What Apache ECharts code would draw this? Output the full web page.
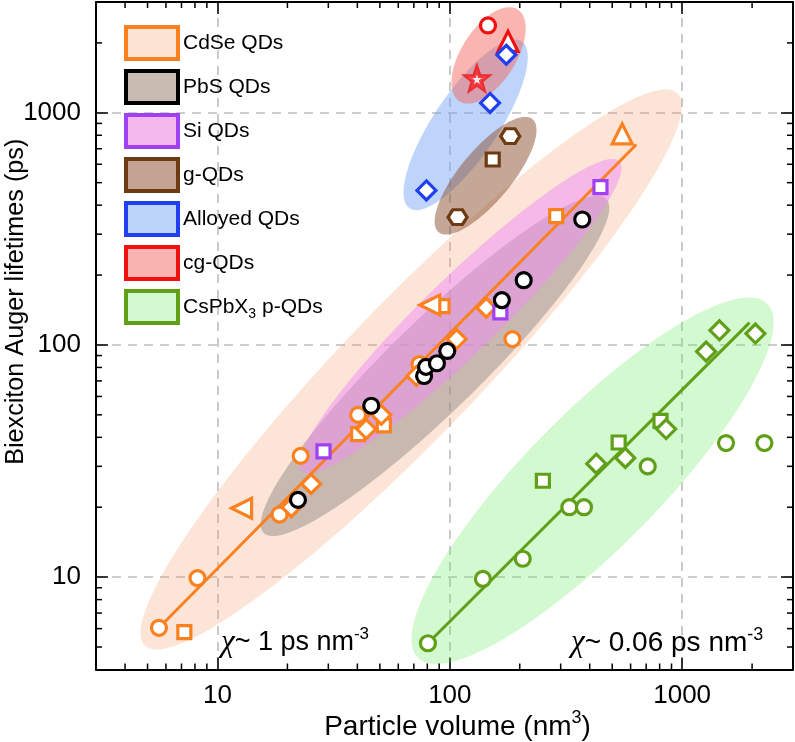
<!DOCTYPE html>
<html><head><meta charset="utf-8">
<script src="https://cdn.jsdelivr.net/npm/echarts@6/dist/echarts.min.js"></script>
<style>html,body{margin:0;padding:0;background:#fff}#c{width:795px;height:742px}</style>
</head><body><div id="c"></div>
<script>
// ---- axis ranges & ticks ----
const xMin = 3, xMax = 3000, yMin = 4, yMax = 3000;
const xTickLabels = ['10', '100', '1000'];
const yTickLabels = ['10', '100', '1000'];
const xMinorTicks = [4,5,6,7,8,9,20,30,40,50,60,70,80,90,200,300,400,500,600,700,800,900,2000];
const yMinorTicks = [5,6,7,8,9,20,30,40,50,60,70,80,90,200,300,400,500,600,700,800,900,2000];

// ---- CdSe QDs ----
const cdseCircle  = [[5.6,6.05],[8.2,9.9],[18.5,18.6],[22.8,33.3],[40.3,50],[74,82.6],[186,106]];
const cdseSquare  = [[7.2,5.8],[40.3,41.3],[52,45],[93,147],[287,359]];
const cdseDiamond = [[20.8,20],[25.3,25.2],[43.7,43.4],[50.7,50],[71.8,73.5],[107,106],[143.5,144.6]];
const cdseTriUp   = [[552,811]];
const cdseTriLeft = [[12.7,19.8],[82,148.6]];
const cdseFit     = [[5.6,6.05],[635,730]];
// ---- PbS QDs ----
const pbsCircle = [[22.2,21.5],[45.9,54.7],[77.5,73.5],[79,80.5],[88,83.4],[97.5,94.2],[167.5,156],[208,190],[371.5,347]];
// ---- Si QDs ----
const siSquare = [[28.6,34.8],[165,138],[445,478]];
// ---- g-QDs ----
const gHexagon = [[108,355],[182,793]];
const gSquare  = [[153,629]];
// ---- Alloyed QDs ----
const alloyDiamond = [[79.3,463],[149,1102],[175,1778]];
// ---- cg-QDs ----
const cgCircle   = [[146,2377]];
const cgTriangle = [[178,2030]];
const cgStar     = [[130.8,1403]];
// ---- CsPbX3 p-QDs ----
const cspbCircle  = [[80.5,5.19],[138.8,9.82],[206,12],[327,20],[378,20],[711,30],[1545,37.8],[2259,37.8]];
const cspbSquare  = [[251.5,26],[533,38],[807,47.1]];
const cspbDiamond = [[427,30.8],[569,32.6],[853,43.4],[1268,93.6],[1447,115.6],[2067,111.9]];
const cspbFit     = [[80.5,5.19],[1950,124.8]];

// ---- ellipse regions: major-axis end points (data) and minor/major ratio ----
const ellCdSe  = [[4.87,5.07,955,1213,0.175]];
const ellPbS   = [[15.8,15.5,472,425,0.19]];
const ellSi    = [[23.0,28.7,537,618,0.17]];
const ellG     = [[89.5,306,227,938,0.35]];
const ellAlloy = [[67.1,388,204,2030,0.32]];
const ellCg    = [[110,1120,196,2786,0.5]];
const ellCspb  = [[72.9,4.49,2323,150.5,0.27]];

const FONT = "'Liberation Sans', Arial, sans-serif";
const C = {cdse:'#fa8020', pbs:'#000000', si:'#a040f0', g:'#6e3a12', alloy:'#2040f0', cg:'#f01010', cspb:'#60a018'};

const HEX  = 'path://M-10,0 L-5,-8.66 L5,-8.66 L10,0 L5,8.66 L-5,8.66 Z';
const STAR = 'path://M0,-10 L2.35,-3.24 L9.51,-3.09 L3.8,1.24 L5.88,8.09 L0,4 L-5.88,8.09 L-3.8,1.24 L-9.51,-3.09 L-2.35,-3.24 Z';

function ellipseItem(params, api) {
  const p1 = api.coord([api.value(0), api.value(1)]);
  const p2 = api.coord([api.value(2), api.value(3)]);
  const r = api.value(4);
  const cx = (p1[0]+p2[0])/2, cy = (p1[1]+p2[1])/2;
  const dx = p2[0]-p1[0], dy = p2[1]-p1[1];
  const L = Math.hypot(dx, dy), a = L/2, b = a*r;
  const ux = dx/L, uy = dy/L, nx = -uy, ny = ux;
  const pts = [];
  for (let i = 0; i < 144; i++) {
    const t = i/144*2*Math.PI;
    pts.push([cx + a*Math.cos(t)*ux + b*Math.sin(t)*nx, cy + a*Math.cos(t)*uy + b*Math.sin(t)*ny]);
  }
  return {type:'polygon', shape:{points:pts}, style:{fill: api.visual('color')}};
}
function ellSeries(name, data, fill) {
  return {type:'custom', name, coordinateSystem:'cartesian2d', renderItem: ellipseItem,
    data, encode:{x:[0,2], y:[1,3]}, itemStyle:{color:fill}, z:1, silent:true};
}
function sc(name, data, symbol, size, color, extra) {
  return Object.assign({type:'scatter', name, data, symbol, symbolSize:size, z:3,
    itemStyle:{color:'#fff', borderColor:color, borderWidth:3.2, opacity:1}}, extra||{});
}
function xMinorItem(params, api) {
  const v = api.value(0);
  const pb = api.coord([v, yMin]), pt = api.coord([v, yMax]);
  return {type:'group', children:[
    {type:'line', shape:{x1:pb[0], y1:pb[1], x2:pb[0], y2:pb[1]-6}, style:{stroke:'#000', lineWidth:1.5}},
    {type:'line', shape:{x1:pt[0], y1:pt[1], x2:pt[0], y2:pt[1]+6}, style:{stroke:'#000', lineWidth:1.5}}
  ]};
}
function yMinorItem(params, api) {
  const v = api.value(1);
  const pl = api.coord([xMin, v]), pr = api.coord([xMax, v]);
  return {type:'group', children:[
    {type:'line', shape:{x1:pl[0], y1:pl[1], x2:pl[0]+6, y2:pl[1]}, style:{stroke:'#000', lineWidth:1.5}},
    {type:'line', shape:{x1:pr[0], y1:pr[1], x2:pr[0]-6, y2:pr[1]}, style:{stroke:'#000', lineWidth:1.5}}
  ]};
}

const legendItems = [
  {name:'CdSe QDs', fill:'#fce4d4', border:C.cdse},
  {name:'PbS QDs', fill:'#c8bcb2', border:C.pbs},
  {name:'Si QDs', fill:'#f4b8ee', border:C.si},
  {name:'g-QDs', fill:'#c4a294', border:C.g},
  {name:'Alloyed QDs', fill:'#bcd4fa', border:C.alloy},
  {name:'cg-QDs', fill:'#f9b3b0', border:C.cg},
  {name:'CsPbX3 p-QDs', fill:'#d3f8cf', border:C.cspb}
];

function mainAxisCommon(labels) {
  return {
    type:'log', logBase:10,
    axisLine:{show:true, onZero:false, lineStyle:{color:'#000', width:2}},
    axisTick:{show:true, inside:true, length:12, lineStyle:{color:'#000', width:1.5}},
    axisLabel:{show:true, color:'#000', fontSize:26, fontFamily:FONT, showMinLabel:false, showMaxLabel:false,
      formatter: v => { const s = String(Math.round(v)); return labels.indexOf(s) >= 0 ? s : ''; }},
    splitLine:{show:true, lineStyle:{color:'#bdbdbd', type:[9,7], width:1.6}}
  };
}
function secondaryAxis(pos, min, max) {
  return {type:'log', logBase:10, position:pos, min, max,
    axisLine:{show:true, onZero:false, lineStyle:{color:'#000', width:2}},
    axisTick:{show:true, inside:true, length:12, lineStyle:{color:'#000', width:1.5}},
    axisLabel:{show:false}, splitLine:{show:false}};
}

const chart = echarts.init(document.getElementById('c'), null, {renderer:'canvas'});
chart.setOption({
  animation:false,
  backgroundColor:'#fff',
  grid:{left:96, right:2, top:2, bottom:72.5, containLabel:false, outerBoundsMode:'none'},
  xAxis:[
    Object.assign(mainAxisCommon(xTickLabels), {position:'bottom', min:xMin, max:xMax,
      axisLabel: Object.assign(mainAxisCommon(xTickLabels).axisLabel, {margin:13}),
      name:'{a|Particle volume (nm}{s|3}{a|)}', nameLocation:'middle', nameGap:40, nameMoveOverlap:false,
      nameTextStyle:{color:'#000', fontFamily:FONT, padding:[0,0,0,26], rich:{
        a:{fontSize:28, fontFamily:FONT, color:'#000', lineHeight:35},
        s:{fontSize:18, fontFamily:FONT, color:'#000', verticalAlign:'top'}}}}),
    secondaryAxis('top', xMin, xMax)
  ],
  yAxis:[
    Object.assign(mainAxisCommon(yTickLabels), {position:'left', min:yMin, max:yMax,
      axisLabel: Object.assign(mainAxisCommon(yTickLabels).axisLabel, {margin:15}),
      name:'Biexciton Auger lifetimes (ps)', nameLocation:'middle', nameGap:67, nameRotate:90, nameMoveOverlap:false,
      nameTextStyle:{color:'#000', fontFamily:FONT, fontSize:25.2, padding:[0,0,0,68]}}),
    secondaryAxis('right', yMin, yMax)
  ],
  legend:{
    orient:'vertical', left:124, top:25, padding:0, itemWidth:52, itemHeight:32, itemGap:8,
    selectedMode:false,
    data: legendItems.map(it => ({name:it.name, icon:'rect',
      itemStyle:{color:it.fill, borderColor:it.border, borderWidth:4}})),
    formatter: name => name === 'CsPbX3 p-QDs' ? '{n|CsPbX}{b|3}{n| p-QDs}' : '{n|' + name + '}',
    textStyle:{color:'#000', fontFamily:FONT, fontSize:21, rich:{
      n:{fontSize:21, fontFamily:FONT, color:'#000', lineHeight:28},
      b:{fontSize:14, fontFamily:FONT, color:'#000', verticalAlign:'bottom'}}}
  },
  graphic:[
    {type:'text', left:221, top:626, z:20, style:{
      text:'{c|χ}{t|~ 1 ps nm}{s|-3}',
      rich:{
        c:{fontSize:31, fontFamily:"'Liberation Serif', serif", fontStyle:'italic', fill:'#000', lineHeight:34},
        t:{fontSize:27, fontFamily:FONT, fill:'#000', lineHeight:34},
        s:{fontSize:17, fontFamily:FONT, fill:'#000', verticalAlign:'top'}}}},
    {type:'text', left:571, top:626, z:20, style:{
      text:'{c|χ}{t|~ 0.06 ps nm}{s|-3}',
      rich:{
        c:{fontSize:31, fontFamily:"'Liberation Serif', serif", fontStyle:'italic', fill:'#000', lineHeight:34},
        t:{fontSize:28, fontFamily:FONT, fill:'#000', lineHeight:34},
        s:{fontSize:18, fontFamily:FONT, fill:'#000', verticalAlign:'top'}}}}
  ],
  series:[
    ellSeries('CdSe QDs', ellCdSe, 'rgba(245,150,90,0.25)'),
    ellSeries('CsPbX3 p-QDs', ellCspb, 'rgba(110,235,100,0.3)'),
    ellSeries('PbS QDs', ellPbS, 'rgba(150,140,135,0.5)'),
    ellSeries('Si QDs', ellSi, 'rgba(240,140,245,0.5)'),
    ellSeries('Alloyed QDs', ellAlloy, 'rgba(110,160,245,0.45)'),
    ellSeries('g-QDs', ellG, 'rgba(140,80,50,0.5)'),
    ellSeries('cg-QDs', ellCg, 'rgba(245,90,80,0.45)'),
    {type:'line', name:'CdSe fit', data:cdseFit, showSymbol:false, symbol:'none', z:2,
      lineStyle:{color:C.cdse, width:3}},
    {type:'line', name:'CsPbX3 fit', data:cspbFit, showSymbol:false, symbol:'none', z:2,
      lineStyle:{color:C.cspb, width:3}},
    sc('CdSe circle', cdseCircle, 'circle', 15, C.cdse),
    sc('CdSe square', cdseSquare, 'rect', 13, C.cdse),
    sc('CdSe diamond', cdseDiamond, 'diamond', 19, C.cdse),
    sc('CdSe triangle', cdseTriUp, 'triangle', 20, C.cdse),
    sc('CdSe left triangle', cdseTriLeft, 'triangle', 20, C.cdse, {symbolRotate:90}),
    sc('Si square', siSquare, 'rect', 13, C.si),
    sc('PbS circle', pbsCircle, 'circle', 15, C.pbs),
    sc('g hexagon', gHexagon, HEX, [19,17], C.g, {symbolKeepAspect:true}),
    sc('g square', gSquare, 'rect', 13, C.g),
    sc('cg circle', cgCircle, 'circle', 15, C.cg),
    sc('cg triangle', cgTriangle, 'triangle', 20, C.cg),
    sc('Alloyed diamond', alloyDiamond, 'diamond', 19, C.alloy),
    sc('cg star', cgStar, STAR, 21, C.cg, {itemStyle:{color:'#fff', borderColor:C.cg, borderWidth:4}}),
    sc('CsPbX3 circle', cspbCircle, 'circle', 15, C.cspb),
    sc('CsPbX3 square', cspbSquare, 'rect', 13, C.cspb),
    sc('CsPbX3 diamond', cspbDiamond, 'diamond', 19, C.cspb),
    {type:'custom', name:'x minor ticks', coordinateSystem:'cartesian2d', renderItem:xMinorItem,
      data:xMinorTicks.map(v => [v, yMin]), encode:{x:0, y:1}, z:6, silent:true, clip:false},
    {type:'custom', name:'y minor ticks', coordinateSystem:'cartesian2d', renderItem:yMinorItem,
      data:yMinorTicks.map(v => [xMin, v]), encode:{x:0, y:1}, z:6, silent:true, clip:false}
  ]
});
</script></body></html>
